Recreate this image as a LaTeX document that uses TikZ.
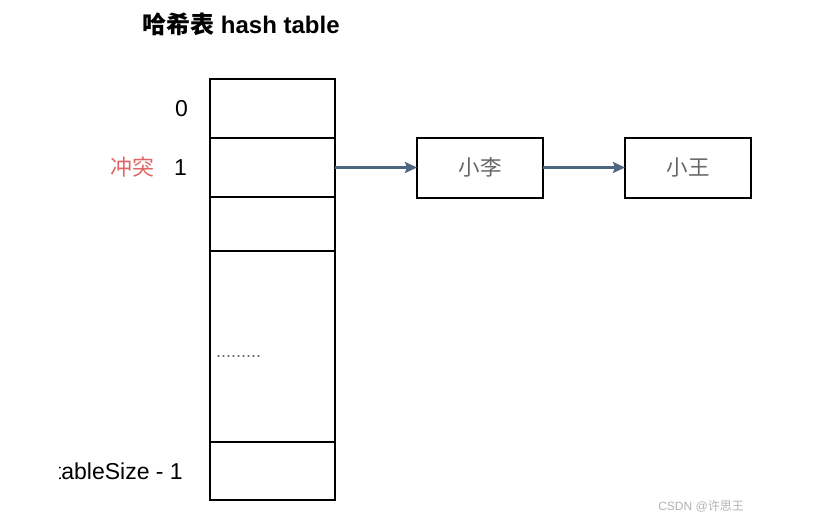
\documentclass[tikz,border=0pt]{standalone}
\usepackage{fontspec}
\setmainfont{Liberation Sans}
\newfontfamily\cjk{Noto Sans CJK SC}
\usepackage{xcolor}
\usepackage{tikz}
\usetikzlibrary{arrows.meta, positioning, calc}

\definecolor{chainblue}{HTML}{4D6680}
\definecolor{clashred}{HTML}{E06666}
\definecolor{entrygray}{HTML}{666666}

\begin{document}
\begin{tikzpicture}[x=1pt, y=-1pt, node distance=0pt,
    cell/.style={rectangle, draw, line width=2pt, minimum width=125pt, outer sep=0pt, inner sep=0pt},
    entry/.style={rectangle, draw, line width=2pt, minimum width=126pt, minimum height=60pt, outer sep=0pt, font=\cjk\fontsize{21.5}{21.5}\selectfont, text=entrygray},
    index/.style={inner sep=0pt, font=\fontsize{23}{23}\selectfont},
    nextptr/.style={draw=chainblue, line width=2.2pt, -{Stealth[length=12pt, width=11pt, inset=2pt]}}]

    \useasboundingbox (0,0) rectangle (813,528);

    % title
    \node [font=\bfseries\fontsize{24}{24}\selectfont] (title) at (241,24) {{\cjk 哈希表} hash table};

    % table column
    \node [cell, minimum height=59pt] (cell0) at (272.5,108.5) {};
    \node [cell, minimum height=59pt, below=of cell0] (cell1) {};
    \node [cell, minimum height=54pt, below=of cell1] (cell2) {};
    \node [cell, minimum height=191pt, below=of cell2] (cellmid) {};
    \node [cell, minimum height=58pt, below=of cellmid] (celllast) {};

    \node [inner sep=0pt, anchor=west, text=entrygray, font=\fontsize{18}{18}\selectfont] (dots) at ($(cellmid.west)+(6,10)$) {.........};

    % indices
    \node [index, left=22pt of cell0] (idx0) {0};
    \node [index, left=23pt of cell1] (idx1) {1};
    \node [index, left=19pt of idx1, text=clashred, font=\cjk\fontsize{22}{22}\selectfont] (clash) {冲突};
    \begin{scope}
        \clip (59.5,440) rectangle (205,505);
        \node [index, left=27pt of celllast] (idxlast) {tableSize - 1};
    \end{scope}

    % chained entries
    \node [entry, right=82pt of cell1] (li) {小李};
    \node [entry, right=82pt of li] (wang) {小王};

    \draw [nextptr] (cell1) -- (li);
    \draw [nextptr] (li) -- (wang);

    \node [text=gray!60, font=\fontsize{12}{12}\selectfont] (mark) at (701,506) {CSDN @{\cjk 许思王}};
\end{tikzpicture}
\end{document}
